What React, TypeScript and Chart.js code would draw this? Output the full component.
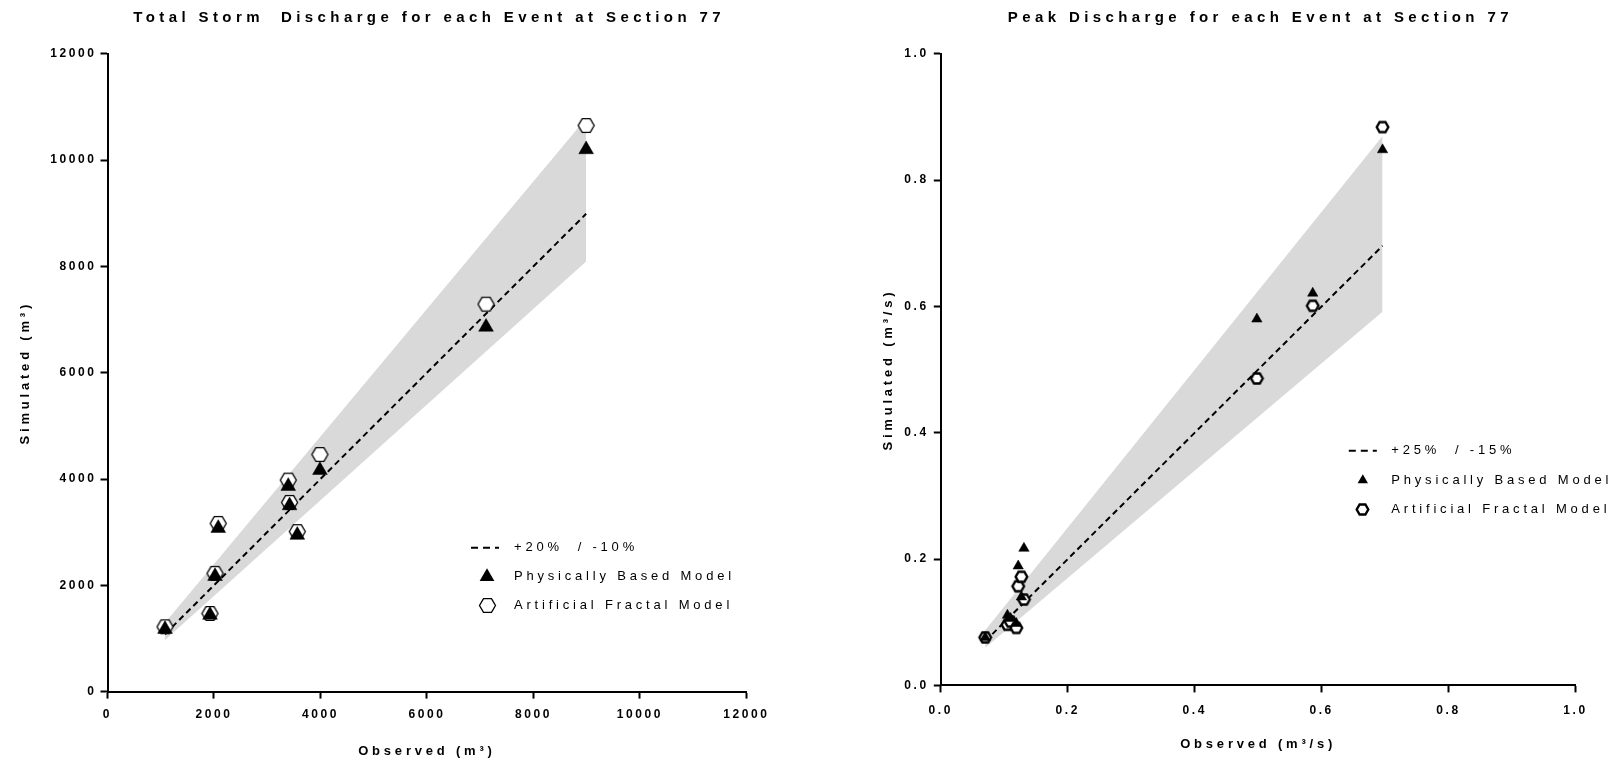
import React, { useEffect, useRef } from 'react';
import { Chart, registerables } from 'chart.js';

Chart.register(...registerables);

// ---- Total storm discharge per event at Section 77 (m³) ----
const volumeObserved = [1080, 1925, 2020, 2080, 3395, 3420, 3565, 3990, 7110, 8990];
const volumePhysical = [1175, 1440, 2170, 3075, 3865, 3500, 2945, 4165, 6860, 10200];
const volumeFractal = [1220, 1470, 2225, 3165, 3980, 3560, 3010, 4460, 7290, 10650];
const volumeTicks = [0, 2000, 4000, 6000, 8000, 10000, 12000];
const volumeBandUpper = 20; // percent above the 1:1 line
const volumeBandLower = 10; // percent below the 1:1 line

// ---- Peak discharge per event at Section 77 (m³/s) ----
const peakObserved = [0.070, 0.105, 0.110, 0.119, 0.122, 0.127, 0.131, 0.498, 0.586, 0.696];
const peakPhysical = [0.076, 0.111, 0.106, 0.098, 0.189, 0.140, 0.217, 0.580, 0.621, 0.848];
const peakFractal = [0.076, 0.096, 0.101, 0.091, 0.157, 0.172, 0.136, 0.486, 0.601, 0.884];
const peakTicks = [0, 0.2, 0.4, 0.6, 0.8, 1.0];
const peakBandUpper = 25;
const peakBandLower = 15;

const PHYSICAL_LABEL = 'Physically Based Model';
const FRACTAL_LABEL = 'Artificial Fractal Model';

const FONT = '"Liberation Sans", Arial, Helvetica, sans-serif';
const BAND_COLOR = '#d9d9d9';
const CANVAS_H = 764;

Chart.defaults.font.family = FONT;
Chart.defaults.color = '#000';

// Hollow hexagon (flat top and bottom) used as a point marker
function hexagonImage(radius: number, lineWidth: number): HTMLCanvasElement {
  const w = Math.ceil(2 * radius + 2 * lineWidth);
  const h = Math.ceil(Math.sqrt(3) * radius + 2 * lineWidth);
  const c = document.createElement('canvas');
  c.width = w;
  c.height = h;
  const ctx = c.getContext('2d')!;
  ctx.beginPath();
  for (let i = 0; i < 6; i++) {
    const a = (Math.PI / 3) * i;
    const px = w / 2 + radius * Math.cos(a);
    const py = h / 2 + radius * Math.sin(a);
    if (i === 0) ctx.moveTo(px, py);
    else ctx.lineTo(px, py);
  }
  ctx.closePath();
  ctx.fillStyle = '#fff';
  ctx.fill();
  ctx.lineWidth = lineWidth;
  ctx.strokeStyle = '#000';
  ctx.lineJoin = 'miter';
  ctx.stroke();
  return c;
}

interface PanelSpec {
  title: string;
  xTitle: string;
  yTitle: string;
  observed: number[];
  physical: number[];
  fractal: number[];
  ticks: number[];
  decimals: number;
  bandUpper: number;
  bandLower: number;
  width: number;
  area: { left: number; right: number; top: number; bottom: number };
  xTickPad: number;
  yTickPad: number;
  xTitlePad: number;
  yTitlePad: number;
  triRadius: number;
  hexRadius: number;
  hexStroke: number;
  legend: { dx: number; dy: number; rowGap: number; markerDx: number; textDx: number };
}

// Letter spacing: axis titles are drawn before the datasets, tick labels after
const spacingPlugin = {
  id: 'letterSpacing',
  beforeDraw(chart: any, _a: any, opts: any) {
    chart.ctx.letterSpacing = `${opts.titles}px`;
  },
  afterDatasetsDraw(chart: any, _a: any, opts: any) {
    chart.ctx.letterSpacing = `${opts.ticks}px`;
  },
};

const panelTitlePlugin = {
  id: 'panelTitle',
  afterDraw(chart: any, _a: any, opts: any) {
    const { ctx, chartArea } = chart;
    ctx.save();
    ctx.letterSpacing = `${opts.spacing}px`;
    ctx.font = `bold ${opts.size}px ${FONT}`;
    ctx.fillStyle = '#000';
    ctx.textAlign = 'center';
    ctx.textBaseline = 'middle';
    ctx.fillText(opts.text, (chartArea.left + chartArea.right) / 2 + opts.spacing / 2, opts.y);
    ctx.restore();
  },
};

const panelLegendPlugin = {
  id: 'panelLegend',
  afterDraw(chart: any, _a: any, opts: any) {
    const { ctx, chartArea } = chart;
    const x0 = chartArea.left + opts.dx;
    const y0 = chartArea.top + opts.dy;
    const datasets = chart.data.datasets;
    const lineDs = datasets.find((d: any) => d.role === 'line');
    const triDs = datasets.find((d: any) => d.role === 'physical');
    const hexDs = datasets.find((d: any) => d.role === 'fractal');
    ctx.save();
    // dashed 1:1 line sample
    ctx.beginPath();
    ctx.setLineDash([7, 5]);
    ctx.lineWidth = lineDs.borderWidth;
    ctx.strokeStyle = lineDs.borderColor;
    ctx.moveTo(x0, y0);
    ctx.lineTo(x0 + 28, y0);
    ctx.stroke();
    ctx.setLineDash([]);
    // triangle marker
    const r = triDs.pointRadius;
    const mx = x0 + opts.markerDx;
    const ty = y0 + opts.rowGap;
    ctx.beginPath();
    ctx.moveTo(mx, ty - r);
    ctx.lineTo(mx + r * 0.866, ty + r * 0.5);
    ctx.lineTo(mx - r * 0.866, ty + r * 0.5);
    ctx.closePath();
    ctx.fillStyle = triDs.backgroundColor;
    ctx.fill();
    // hexagon marker
    const img = hexDs.pointStyle as HTMLCanvasElement;
    const hy = y0 + 2 * opts.rowGap;
    ctx.drawImage(img, Math.round(mx - img.width / 2), Math.round(hy - img.height / 2));
    // labels
    ctx.letterSpacing = `${opts.spacing}px`;
    ctx.font = `${opts.size}px ${FONT}`;
    ctx.fillStyle = '#000';
    ctx.textAlign = 'left';
    ctx.textBaseline = 'middle';
    ctx.fillText(lineDs.label, x0 + opts.textDx, y0);
    ctx.fillText(triDs.label, x0 + opts.textDx, ty);
    ctx.fillText(hexDs.label, x0 + opts.textDx, hy);
    ctx.restore();
  },
};

function buildConfig(spec: PanelSpec): any {
  const lo = Math.min(...spec.observed);
  const hi = Math.max(...spec.observed);
  const up = 1 + spec.bandUpper / 100;
  const dn = 1 - spec.bandLower / 100;
  const pairs = (ys: number[]) => spec.observed.map((x, i) => ({ x, y: ys[i] }));
  const hex = hexagonImage(spec.hexRadius, spec.hexStroke);
  const fmt = (v: number) => (spec.decimals ? Number(v).toFixed(spec.decimals) : String(v));
  const padLeft = 10;

  const axisCommon = (which: 'x' | 'y') => ({
    type: 'linear',
    min: spec.ticks[0],
    max: spec.ticks[spec.ticks.length - 1],
    afterBuildTicks: (scale: any) => {
      scale.ticks = spec.ticks.map((value) => ({ value }));
    },
    afterFit: (scale: any) => {
      if (which === 'x') scale.height = CANVAS_H - spec.area.bottom;
      else scale.width = spec.area.left - padLeft;
    },
    grid: {
      drawOnChartArea: false,
      drawTicks: true,
      tickLength: 7,
      tickWidth: 2,
      tickColor: '#000',
      color: '#000',
    },
    border: { display: true, color: '#000', width: 2 },
    ticks: {
      color: '#000',
      font: { size: 12, weight: 'bold' },
      padding: which === 'x' ? spec.xTickPad : spec.yTickPad,
      maxRotation: 0,
      autoSkip: false,
      z: 1,
      callback: (v: number) => fmt(v),
    },
    title: {
      display: true,
      text: which === 'x' ? spec.xTitle : spec.yTitle,
      color: '#000',
      font: { size: 13, weight: 'bold' },
      padding: which === 'x' ? spec.xTitlePad : spec.yTitlePad,
    },
  });

  return {
    type: 'scatter',
    data: {
      datasets: [
        {
          type: 'line',
          role: 'bandUpper',
          label: 'upper',
          data: [{ x: lo, y: lo * up }, { x: hi, y: hi * up }],
          borderColor: 'rgba(0,0,0,0)',
          borderWidth: 1,
          pointRadius: 0,
          backgroundColor: BAND_COLOR,
          fill: '+1',
          order: 4,
        },
        {
          type: 'line',
          role: 'bandLower',
          label: 'lower',
          data: [{ x: lo, y: lo * dn }, { x: hi, y: hi * dn }],
          borderColor: 'rgba(0,0,0,0)',
          borderWidth: 1,
          pointRadius: 0,
          fill: false,
          order: 4,
        },
        {
          type: 'line',
          role: 'line',
          label: `+${spec.bandUpper}%  / -${spec.bandLower}%`,
          data: [{ x: lo, y: lo }, { x: hi, y: hi }],
          borderColor: '#000',
          borderWidth: 2,
          borderDash: [6, 4],
          pointRadius: 0,
          fill: false,
          order: 3,
        },
        {
          type: 'scatter',
          role: 'fractal',
          label: FRACTAL_LABEL,
          data: pairs(spec.fractal),
          pointStyle: hex,
          pointRadius: spec.hexRadius,
          order: 2,
        },
        {
          type: 'scatter',
          role: 'physical',
          label: PHYSICAL_LABEL,
          data: pairs(spec.physical),
          pointStyle: 'triangle',
          pointRadius: spec.triRadius,
          backgroundColor: '#000',
          borderColor: '#000',
          borderWidth: 0.5,
          order: 1,
        },
      ],
    },
    options: {
      responsive: false,
      animation: false,
      devicePixelRatio: 1,
      events: [],
      layout: {
        padding: {
          left: padLeft,
          top: spec.area.top,
          right: spec.width - spec.area.right,
          bottom: 0,
        },
      },
      scales: {
        x: axisCommon('x'),
        y: axisCommon('y'),
      },
      plugins: {
        legend: { display: false },
        title: { display: false },
        tooltip: { enabled: false },
        letterSpacing: { titles: 3.8, ticks: 2.6 },
        panelTitle: { text: spec.title, y: 18, size: 15, spacing: 4.4 },
        panelLegend: { ...spec.legend, size: 13, spacing: 3.8 },
      },
    },
    plugins: [spacingPlugin, panelTitlePlugin, panelLegendPlugin],
  };
}

const volumeSpec: PanelSpec = {
  title: 'Total Storm  Discharge for each Event at Section 77',
  xTitle: 'Observed (m³)',
  yTitle: 'Simulated (m³)',
  observed: volumeObserved,
  physical: volumePhysical,
  fractal: volumeFractal,
  ticks: volumeTicks,
  decimals: 0,
  bandUpper: volumeBandUpper,
  bandLower: volumeBandLower,
  width: 830,
  area: { left: 107.5, right: 746.4, top: 53.8, bottom: 691.6 },
  xTickPad: 9,
  yTickPad: 4,
  xTitlePad: 5,
  yTitlePad: 8,
  triRadius: 8.5,
  hexRadius: 8,
  hexStroke: 1.3,
  legend: { dx: 363.5, dy: 494, rowGap: 29, markerDx: 16, textDx: 43 },
};

const peakSpec: PanelSpec = {
  title: 'Peak Discharge for each Event at Section 77',
  xTitle: 'Observed (m³/s)',
  yTitle: 'Simulated (m³/s)',
  observed: peakObserved,
  physical: peakPhysical,
  fractal: peakFractal,
  ticks: peakTicks,
  decimals: 1,
  bandUpper: peakBandUpper,
  bandLower: peakBandLower,
  width: 791,
  area: { left: 110.8, right: 745.5, top: 53.8, bottom: 685.4 },
  xTickPad: 11.5,
  yTickPad: 5,
  xTitlePad: 12,
  yTitlePad: 41,
  triRadius: 6,
  hexRadius: 5.8,
  hexStroke: 2.4,
  legend: { dx: 408, dy: 397, rowGap: 29.5, markerDx: 14, textDx: 42.5 },
};

function Panel({ spec, left }: { spec: PanelSpec; left: number }) {
  const ref = useRef<HTMLCanvasElement | null>(null);
  useEffect(() => {
    if (!ref.current) return;
    const chart = new Chart(ref.current, buildConfig(spec));
    return () => chart.destroy();
  }, [spec]);
  return (
    <canvas
      ref={ref}
      width={spec.width}
      height={CANVAS_H}
      style={{ position: 'absolute', left, top: 0, width: spec.width, height: CANVAS_H, display: 'block' }}
    />
  );
}

export default function App() {
  return (
    <div style={{ position: 'fixed', left: 0, top: 0, width: 1621, height: CANVAS_H, background: '#fff' }}>
      <Panel spec={volumeSpec} left={0} />
      <Panel spec={peakSpec} left={830} />
    </div>
  );
}
